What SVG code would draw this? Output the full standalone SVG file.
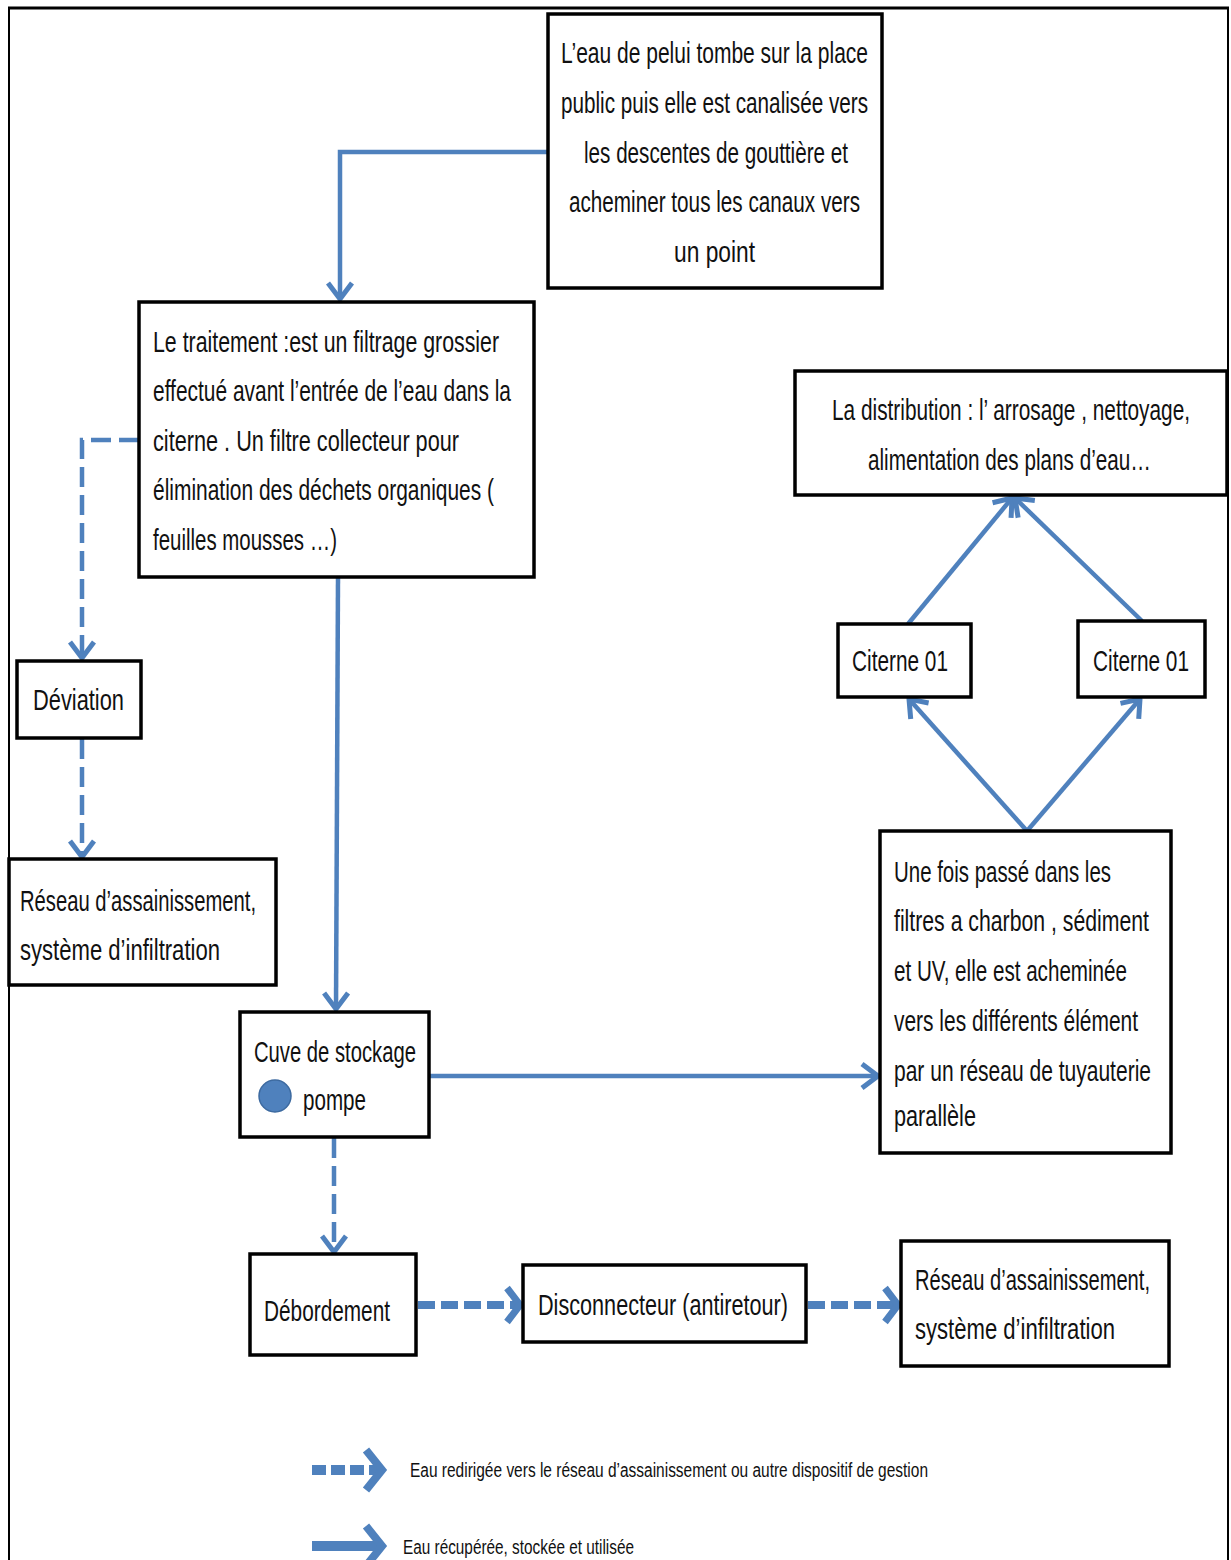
<svg xmlns="http://www.w3.org/2000/svg" width="1231" height="1560" viewBox="0 0 1231 1560">
<style>
.box{fill:#fff;stroke:#000;stroke-width:3.5}
.t{font-family:"Liberation Sans",Arial,sans-serif;font-size:30px;fill:#111}
.lg{font-family:"Liberation Sans",Arial,sans-serif;font-size:20px;fill:#111}
.c{fill:none;stroke:#4F81BD;stroke-width:4.5}
.d{stroke-dasharray:20 8}
.dt{fill:none;stroke:#4F81BD;stroke-width:8;stroke-dasharray:17 6}
</style>
<defs>
<marker id="v" markerUnits="userSpaceOnUse" markerWidth="40" markerHeight="40" refX="0" refY="0" orient="auto" overflow="visible">
<path d="M-16,-12 L0,0 L-16,12" fill="none" stroke="#4F81BD" stroke-width="5" stroke-linejoin="round"/>
</marker>
<marker id="ch" markerUnits="userSpaceOnUse" markerWidth="40" markerHeight="40" refX="0" refY="0" orient="auto" overflow="visible">
<path d="M-13,-17 L0,0 L-13,17" fill="none" stroke="#4F81BD" stroke-width="7"/>
</marker>
<marker id="lg" markerUnits="userSpaceOnUse" markerWidth="40" markerHeight="60" refX="0" refY="0" orient="auto" overflow="visible">
<path d="M-16,-20 L0,0 L-16,20" fill="none" stroke="#4F81BD" stroke-width="8"/>
</marker>
</defs>
<rect x="0" y="0" width="1231" height="1560" fill="#fff"/>
<g id="frame">
<rect x="9" y="8" width="1219" height="1570" fill="none" stroke="#000" stroke-width="2"/>
<line x1="8" y1="8" x2="1229" y2="8" stroke="#000" stroke-width="3"/>
</g>
<g id="connectors">
<path class="c" d="M548,152 H340 V299" marker-end="url(#v)"/>
<path class="c d" d="M139,440 H82 V658" marker-end="url(#v)"/>
<path class="c d" d="M82,739 V857" marker-end="url(#v)"/>
<path class="c" d="M338,578 L336,1009" marker-end="url(#v)"/>
<path class="c" d="M429,1076 H878" marker-end="url(#v)"/>
<path class="c d" d="M334,1138 V1252" marker-end="url(#v)"/>
<path class="dt" d="M418,1305 H520" marker-end="url(#ch)"/>
<path class="dt" d="M808,1305 H898" marker-end="url(#ch)"/>
<path class="c" d="M908,624 L1012,498" marker-end="url(#v)"/>
<path class="c" d="M1142,621 L1015,498" marker-end="url(#v)"/>
<path class="c" d="M1027,831 L909,699" marker-end="url(#v)"/>
<path class="c" d="M1027,831 L1140,699" marker-end="url(#v)"/>
</g>
<g id="n-source">
<rect class="box" x="548" y="14" width="334" height="274"/>
<text class="t" x="561" y="63" textLength="307" lengthAdjust="spacingAndGlyphs">L’eau de pelui tombe sur la place</text>
<text class="t" x="561" y="113" textLength="307" lengthAdjust="spacingAndGlyphs">public puis elle est canalisée vers</text>
<text class="t" x="584" y="163" textLength="264" lengthAdjust="spacingAndGlyphs">les descentes de gouttière et</text>
<text class="t" x="569" y="212" textLength="291" lengthAdjust="spacingAndGlyphs">acheminer tous les canaux vers</text>
<text class="t" x="674" y="262" textLength="81" lengthAdjust="spacingAndGlyphs">un point</text>
</g>
<g id="n-traitement">
<rect class="box" x="139" y="302" width="395" height="275"/>
<text class="t" x="153" y="352" textLength="346" lengthAdjust="spacingAndGlyphs">Le traitement :est un filtrage grossier</text>
<text class="t" x="153" y="401" textLength="358" lengthAdjust="spacingAndGlyphs">effectué avant l’entrée de l’eau dans la</text>
<text class="t" x="153" y="451" textLength="306" lengthAdjust="spacingAndGlyphs">citerne . Un filtre collecteur pour</text>
<text class="t" x="153" y="500" textLength="341" lengthAdjust="spacingAndGlyphs">élimination des déchets organiques (</text>
<text class="t" x="153" y="550" textLength="184" lengthAdjust="spacingAndGlyphs">feuilles mousses …)</text>
</g>
<g id="n-distribution">
<rect class="box" x="795" y="371" width="432" height="124"/>
<text class="t" x="832" y="420" textLength="358" lengthAdjust="spacingAndGlyphs">La distribution : l’ arrosage , nettoyage,</text>
<text class="t" x="868" y="470" textLength="283" lengthAdjust="spacingAndGlyphs">alimentation des plans d’eau…</text>
</g>
<g id="n-citerne1">
<rect class="box" x="838" y="624" width="133" height="73"/>
<text class="t" x="852" y="671" textLength="96" lengthAdjust="spacingAndGlyphs">Citerne 01</text>
</g>
<g id="n-citerne2">
<rect class="box" x="1078" y="621" width="127" height="76"/>
<text class="t" x="1093" y="671" textLength="96" lengthAdjust="spacingAndGlyphs">Citerne 01</text>
</g>
<g id="n-deviation">
<rect class="box" x="17" y="661" width="124" height="77"/>
<text class="t" x="33" y="710" textLength="91" lengthAdjust="spacingAndGlyphs">Déviation</text>
</g>
<g id="n-reseau1">
<rect class="box" x="9" y="859" width="267" height="126"/>
<text class="t" x="20" y="911" textLength="236" lengthAdjust="spacingAndGlyphs">Réseau d’assainissement,</text>
<text class="t" x="20" y="960" textLength="200" lengthAdjust="spacingAndGlyphs">système d’infiltration</text>
</g>
<g id="n-filtres">
<rect class="box" x="880" y="831" width="291" height="322"/>
<text class="t" x="894" y="882" textLength="217" lengthAdjust="spacingAndGlyphs">Une fois passé dans les</text>
<text class="t" x="894" y="931" textLength="255" lengthAdjust="spacingAndGlyphs">filtres a charbon , sédiment</text>
<text class="t" x="894" y="981" textLength="233" lengthAdjust="spacingAndGlyphs">et UV, elle est acheminée</text>
<text class="t" x="894" y="1031" textLength="244" lengthAdjust="spacingAndGlyphs">vers les différents élément</text>
<text class="t" x="894" y="1081" textLength="257" lengthAdjust="spacingAndGlyphs">par un réseau de tuyauterie</text>
<text class="t" x="894" y="1126" textLength="82" lengthAdjust="spacingAndGlyphs">parallèle</text>
</g>
<g id="n-cuve">
<rect class="box" x="240" y="1012" width="189" height="125"/>
<text class="t" x="254" y="1062" textLength="162" lengthAdjust="spacingAndGlyphs">Cuve de stockage</text>
<circle cx="275" cy="1096" r="16" fill="#4F81BD" stroke="#3d6aa0" stroke-width="1.5"/>
<text class="t" x="303" y="1110" textLength="63" lengthAdjust="spacingAndGlyphs">pompe</text>
</g>
<g id="n-debordement">
<rect class="box" x="250" y="1254" width="166" height="101"/>
<text class="t" x="264" y="1321" textLength="126" lengthAdjust="spacingAndGlyphs">Débordement</text>
</g>
<g id="n-disconnecteur">
<rect class="box" x="523" y="1265" width="283" height="77"/>
<text class="t" x="538" y="1315" textLength="250" lengthAdjust="spacingAndGlyphs">Disconnecteur (antiretour)</text>
</g>
<g id="n-reseau2">
<rect class="box" x="901" y="1241" width="268" height="125"/>
<text class="t" x="915" y="1290" textLength="235" lengthAdjust="spacingAndGlyphs">Réseau d’assainissement,</text>
<text class="t" x="915" y="1339" textLength="200" lengthAdjust="spacingAndGlyphs">système d’infiltration</text>
</g>
<g id="legend">
<path d="M312,1470 H382" fill="none" stroke="#4F81BD" stroke-width="10" stroke-dasharray="14 5" marker-end="url(#lg)"/>
<text class="lg" x="410" y="1477" textLength="518" lengthAdjust="spacingAndGlyphs">Eau redirigée vers le réseau d’assainissement ou autre dispositif  de gestion</text>
<path d="M312,1546 H382" fill="none" stroke="#4F81BD" stroke-width="10" marker-end="url(#lg)"/>
<text class="lg" x="403" y="1554" textLength="231" lengthAdjust="spacingAndGlyphs">Eau récupérée, stockée et utilisée</text>
</g>
</svg>
